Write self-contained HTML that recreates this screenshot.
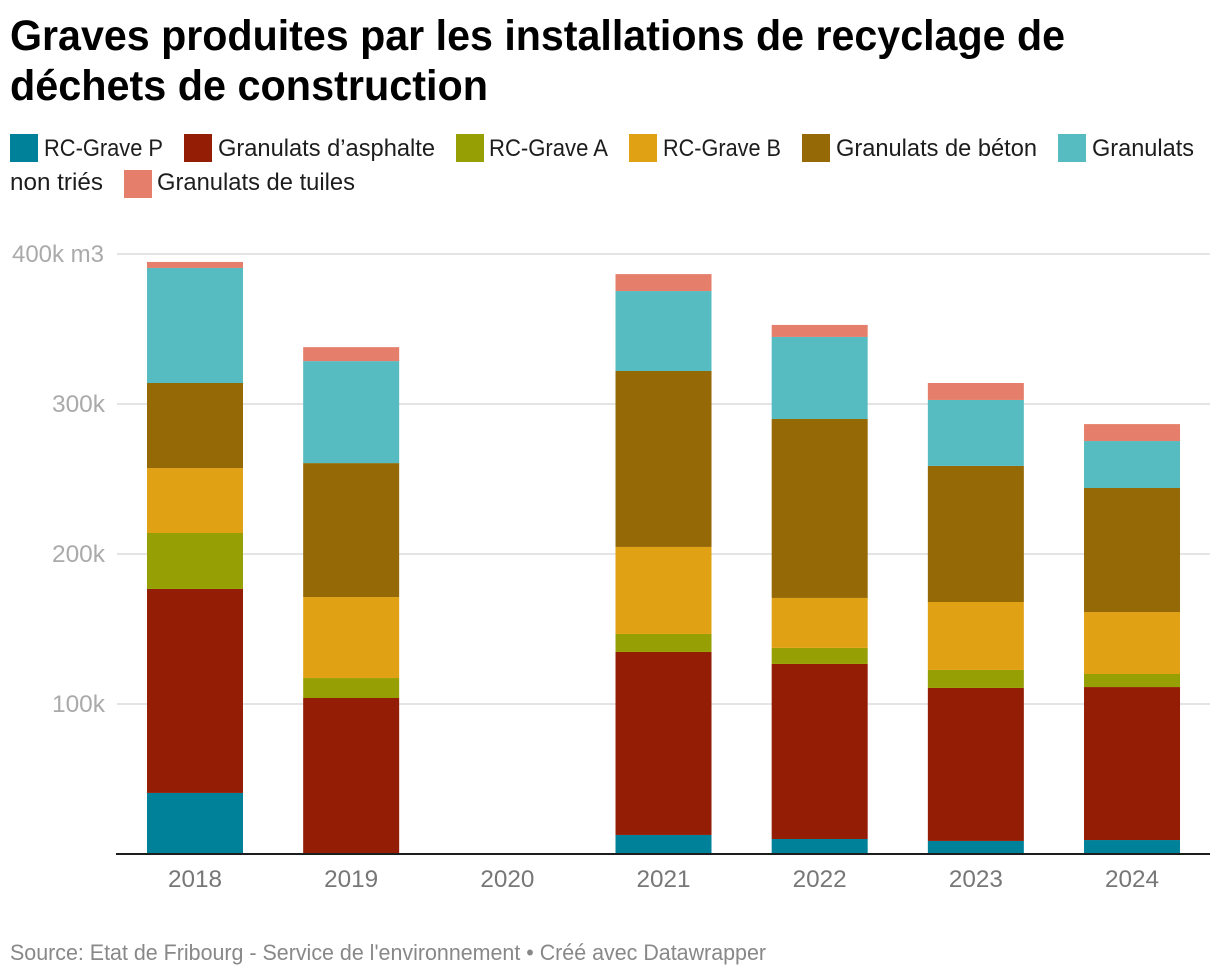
<!DOCTYPE html>
<html lang="fr">
<head>
<meta charset="utf-8">
<title>Graves produites par les installations de recyclage de déchets de construction</title>
<style>
html,body{margin:0;padding:0;background:#fff;width:1220px;height:978px;overflow:hidden}
svg{display:block;font-family:"Liberation Sans",Arial,sans-serif}
.title{font-size:43px;font-weight:700;fill:#000}
.leg{font-size:24px;fill:#1d1d1d}
.ytick{font-size:24px;fill:#aaaaaa}
.xtick{font-size:24px;fill:#777777}
.src{font-size:22px;fill:#888888}
</style>
</head>
<body>
<svg id="chart" width="1220" height="978" viewBox="0 0 1220 978">
  <g>
    <text class="title" x="10" y="50" textLength="1055" lengthAdjust="spacingAndGlyphs">Graves produites par les installations de recyclage de</text>
    <text class="title" x="10" y="100" textLength="478" lengthAdjust="spacingAndGlyphs">déchets de construction</text>
  </g>
  <g>
    <g>
      <rect x="10" y="134" width="28" height="28" fill="#00819a"/>
      <text class="leg" x="44" y="156" textLength="119" lengthAdjust="spacingAndGlyphs">RC-Grave P</text>
    </g>
    <g>
      <rect x="184" y="134" width="28" height="28" fill="#941d06"/>
      <text class="leg" x="218" y="156" textLength="217" lengthAdjust="spacingAndGlyphs">Granulats d’asphalte</text>
    </g>
    <g>
      <rect x="456" y="134" width="28" height="28" fill="#96a004"/>
      <text class="leg" x="489" y="156" textLength="119" lengthAdjust="spacingAndGlyphs">RC-Grave A</text>
    </g>
    <g>
      <rect x="629" y="134" width="28" height="28" fill="#e1a114"/>
      <text class="leg" x="663" y="156" textLength="118" lengthAdjust="spacingAndGlyphs">RC-Grave B</text>
    </g>
    <g>
      <rect x="802" y="134" width="28" height="28" fill="#956905"/>
      <text class="leg" x="836" y="156" textLength="201" lengthAdjust="spacingAndGlyphs">Granulats de béton</text>
    </g>
    <g>
      <rect x="1058" y="134" width="28" height="28" fill="#56bcc2"/>
      <text class="leg" x="1092" y="156" textLength="102" lengthAdjust="spacingAndGlyphs">Granulats</text>
      <text class="leg" x="10" y="190" textLength="93" lengthAdjust="spacingAndGlyphs">non triés</text>
    </g>
    <g>
      <rect x="124" y="170" width="28" height="28" fill="#e57f6c"/>
      <text class="leg" x="157" y="190" textLength="198" lengthAdjust="spacingAndGlyphs">Granulats de tuiles</text>
    </g>
  </g>
  <g id="grid"></g>
  <g id="yticks"></g>
  <g id="bars"></g>
  <line x1="116" x2="1210" y1="854" y2="854" stroke="#1d1d1d" stroke-width="2"/>
  <g id="xticks"></g>
  <text class="src" x="10" y="960" textLength="756" lengthAdjust="spacingAndGlyphs">Source: Etat de Fribourg - Service de l'environnement • Créé avec Datawrapper</text>
</svg>
<script>
const years = ["2018","2019","2020","2021","2022","2023","2024"];
const seriesNames = ["rc-grave-p","granulats-asphalte","rc-grave-a","rc-grave-b","granulats-beton","granulats-non-tries","granulats-tuiles"];
const seriesColors = ["#00819a","#941d06","#96a004","#e1a114","#956905","#56bcc2","#e57f6c"];
const rcGraveP = [40.7,0,0,12.7,10,8.7,9.3];
const granulatsAsphalte = [136,104,0,122,116.7,102,102];
const rcGraveA = [37.3,13.3,0,12,10.7,12,8.7];
const rcGraveB = [43.3,54,0,58,33.3,45.3,41.3];
const granulatsBeton = [56.7,89.3,0,117.3,119.3,90.7,82.7];
const granulatsNonTries = [76.7,68,0,53.3,54.7,44,31.3];
const granulatsTuiles = [4,9.3,0,11.3,8,11.3,11.3];
const yTickValues = [100,200,300,400];
const yTickLabels = ["100k","200k","300k","400k m3"];

const NS = "http://www.w3.org/2000/svg";
const allSeries = [rcGraveP,granulatsAsphalte,rcGraveA,rcGraveB,granulatsBeton,granulatsNonTries,granulatsTuiles];
function yScale(v){ return 854 - v * 1.5; }
function xCenter(i){ return 195 + i * 156.17; }
const barWidth = 96;

const grid = document.getElementById("grid");
const yticks = document.getElementById("yticks");
yTickValues.forEach(function(v,i){
  const l = document.createElementNS(NS,"line");
  
  
  l.setAttribute("x1", 117);
  l.setAttribute("x2", 1210);
  l.setAttribute("y1", yScale(v));
  l.setAttribute("y2", yScale(v));
  l.setAttribute("stroke", "#e4e4e4");
  l.setAttribute("stroke-width", "2");
  grid.appendChild(l);
  const t = document.createElementNS(NS,"text");
  
  
  t.setAttribute("class","ytick");
  t.setAttribute("x", v === 400 ? 12 : 105);
  t.setAttribute("y", yScale(v) + 8);
  if (v === 400) { t.setAttribute("textLength","92"); t.setAttribute("lengthAdjust","spacingAndGlyphs"); }
  else { t.setAttribute("text-anchor","end"); t.setAttribute("textLength","53"); t.setAttribute("lengthAdjust","spacingAndGlyphs"); }
  t.textContent = yTickLabels[i];
  yticks.appendChild(t);
});

const bars = document.getElementById("bars");
years.forEach(function(year,i){
  let cum = 0;
  allSeries.forEach(function(s,k){
    const v = s[i];
    if (v > 0) {
      const r = document.createElementNS(NS,"rect");
      
      
      r.setAttribute("data-series", seriesNames[k]);
      r.setAttribute("data-year", year);
      r.setAttribute("x", xCenter(i) - barWidth / 2);
      r.setAttribute("width", barWidth);
      r.setAttribute("y", yScale(cum + v));
      r.setAttribute("height", yScale(cum) - yScale(cum + v));
      r.setAttribute("fill", seriesColors[k]);
      bars.appendChild(r);
    }
    cum += v;
  });
});

const xticks = document.getElementById("xticks");
years.forEach(function(year,i){
  const t = document.createElementNS(NS,"text");
  
  
  t.setAttribute("class","xtick");
  t.setAttribute("x", xCenter(i));
  t.setAttribute("y", 887);
  t.setAttribute("text-anchor","middle");
  t.setAttribute("textLength","54");
  t.setAttribute("lengthAdjust","spacingAndGlyphs");
  t.textContent = year;
  xticks.appendChild(t);
});
</script>
</body>
</html>
